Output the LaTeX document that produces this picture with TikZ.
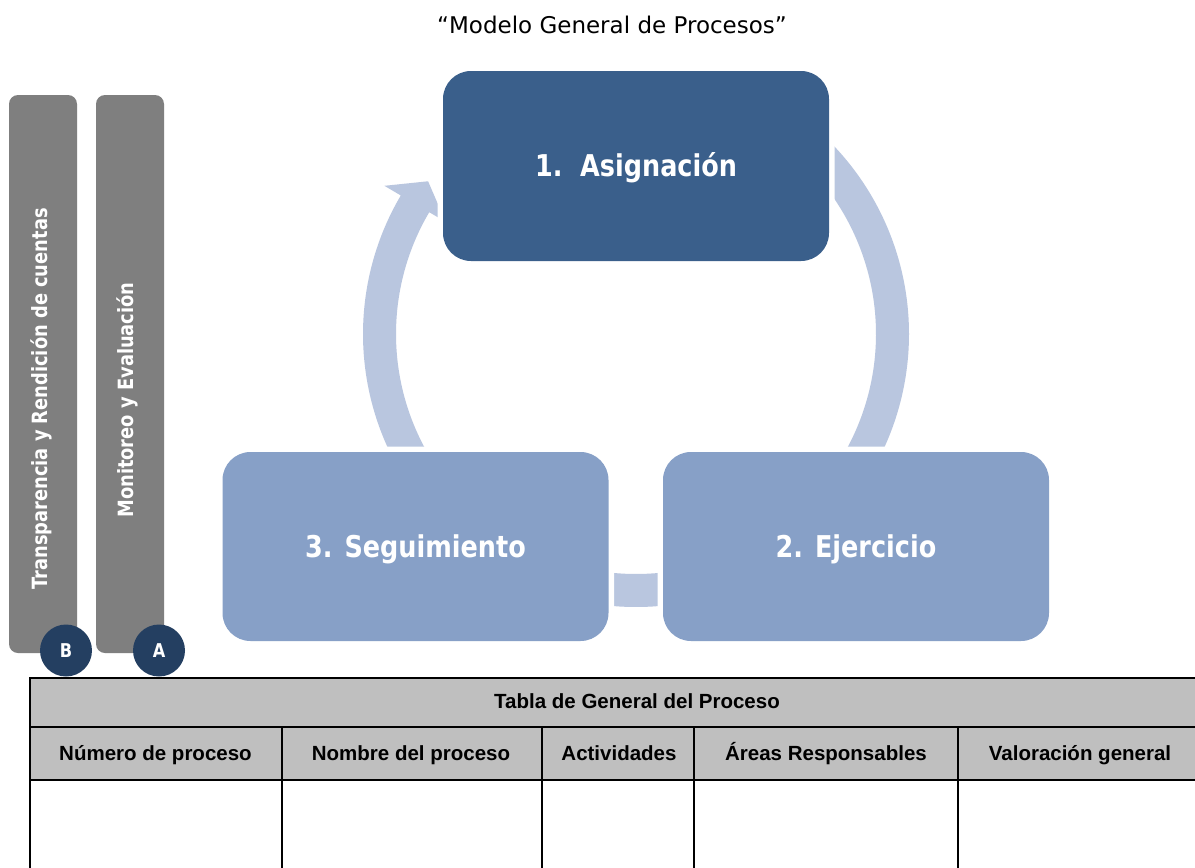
\documentclass[tikz,border=0pt]{standalone}
\usepackage{fontspec}
\setmainfont{DejaVu Sans}
\newfontfamily\tah[FakeStretch=0.85]{DejaVu Sans}
\newfontfamily\arialf{Liberation Sans}
\usetikzlibrary{calc}
\definecolor{darkbox}{HTML}{3A5F8B}
\definecolor{lightbox}{HTML}{87A0C7}
\definecolor{arcblue}{HTML}{B9C6DF}
\definecolor{barcol}{HTML}{7F7F7F}
\definecolor{navy}{HTML}{243F61}
\definecolor{hdrgray}{HTML}{BFBFBF}
\tikzset{
  procbox/.style={rectangle, rounded corners=28pt, minimum width=386pt, minimum height=189pt,
    inner sep=0pt, text=white, font=\tah\bfseries\fontsize{30}{36}\selectfont,
    text height=21.9pt, text depth=0pt,
    preaction={draw=white, line width=11pt}},
  barbox/.style={rectangle, rounded corners=9pt, fill=barcol, minimum width=68pt, minimum height=558pt, inner sep=0pt},
  bartext/.style={rotate=90, text=white, font=\tah\bfseries\fontsize{21}{25}\selectfont, inner sep=0pt},
  badge/.style={circle, fill=navy, minimum size=52pt, inner sep=0pt, text=white,
    font=\tah\bfseries\fontsize{19}{22}\selectfont, text height=13.9pt, text depth=0pt},
  thead/.style={font=\arialf\bfseries\fontsize{20.5}{24}\selectfont, inner sep=0pt,
    text height=14.7pt, text depth=0pt},
  arcshape/.style={fill=arcblue},
  thick rule/.style={line width=2.5pt, black},
  thin rule/.style={line width=1.9pt, black}
}
\begin{document}
\begin{tikzpicture}[x=1pt,y=-1pt]
\useasboundingbox[fill=white] (0,0) rectangle (1195,868);

% title
\node[font=\fontsize{23}{27}\selectfont, inner sep=0pt] (title) at (612,25) {“Modelo General de Procesos”};

% side bars
\node[barbox] (barB) at (43,374) {};
\node[barbox] (barA) at (130,374) {};
\node[bartext] (tB) at (41,399) {Transparencia y Rendición de cuentas};
\node[bartext] (tA) at (127,400) {Monitoreo y Evaluación};
\node[badge] (cB) at (66,650.5) {B};
\node[badge] (cA) at (159,650.5) {A};

% cycle arrows
\coordinate (C) at (636,334);
\begin{scope}[shift={(C)}]
  \fill[arcshape] (145:273) arc[start angle=145, end angle=210.5, radius=273]
     -- (210.5:292) -- (216.3:258) -- (210.5:221) -- (210.5:240)
     arc[start angle=210.5, end angle=145, radius=240] -- cycle;
  \fill[arcshape] (-60:273) arc[start angle=-60, end angle=35, radius=273]
     -- (35:240) arc[start angle=35, end angle=-60, radius=240] -- cycle;
  \fill[arcshape] (60:273) arc[start angle=60, end angle=125, radius=273]
     -- (125:240) arc[start angle=125, end angle=60, radius=240] -- cycle;
\end{scope}

% process boxes
\node[procbox, fill=darkbox, minimum height=190pt] (p1) at (636,166) {1.\ \ Asignación};
\node[procbox, fill=lightbox] (p3) at (415.5,546.5) {3. Seguimiento};
\node[procbox, fill=lightbox] (p2) at (856,546.5) {2. Ejercicio};

% table
\fill[hdrgray] (30,678) rectangle (1195,780);
\draw[thick rule] (30,678) -- (1195,678);
\draw[thick rule] (30,727) -- (1195,727);
\draw[thick rule] (30,780) -- (1195,780);
\draw[thin rule] (30,677) -- (30,868);
\foreach \cx in {282,542,694,958} {
  \draw[thin rule] (\cx,727) -- (\cx,868);
}
\node[thead] (tt) at (637,701.5) {Tabla de General del Proceso};
\node[thead] (h1) at (155.5,753.5) {Número de proceso};
\node[thead] (h2) at (411,753.5) {Nombre del proceso};
\node[thead] (h3) at (619,753.5) {Actividades};
\node[thead] (h4) at (826,753.5) {Áreas Responsables};
\node[thead] (h5) at (1080,753.5) {Valoración general};
\end{tikzpicture}
\end{document}
